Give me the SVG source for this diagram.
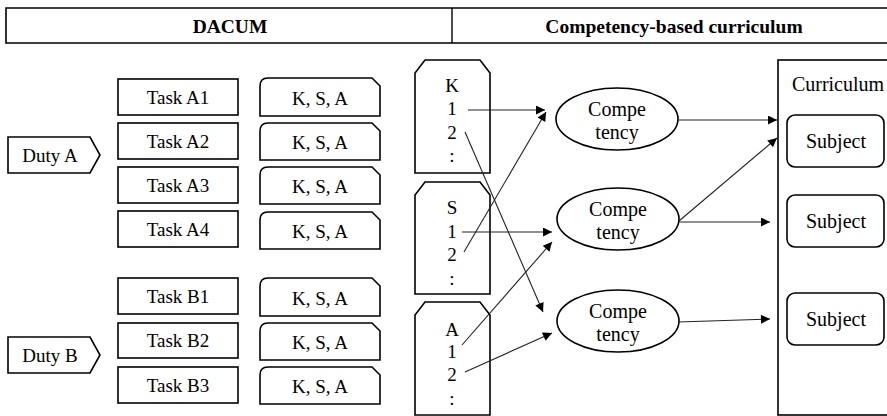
<svg xmlns="http://www.w3.org/2000/svg" width="887" height="416" viewBox="0 0 887 416">
<defs>
<marker id="ah" viewBox="0 0 10 10" refX="10" refY="5" markerWidth="11" markerHeight="9" markerUnits="userSpaceOnUse" orient="auto">
<path d="M0,0 L10,5 L0,10 Z" fill="#000"/>
</marker>
</defs>
<style>
.t{font-family:'Liberation Serif','DejaVu Serif',serif;font-size:19px;fill:#000;text-anchor:middle}
.r{font-family:'Liberation Serif','DejaVu Serif',serif;font-size:20px;fill:#000;text-anchor:middle}
.h{font-family:'Liberation Serif','DejaVu Serif',serif;font-size:19.5px;font-weight:bold;fill:#000;text-anchor:middle}
.b{fill:#fff;stroke:#000;stroke-width:1.6}
.c{fill:none;stroke:#222;stroke-width:1.1;marker-end:url(#ah)}
</style>
<rect width="887" height="416" fill="#fff"/>
<g id="header">
<path d="M888,8 H6 V43 H888" class="b"/>
<line x1="452" y1="8" x2="452" y2="43" stroke="#000" stroke-width="1.4"/>
<text x="230" y="33" class="h">DACUM</text>
<text x="674" y="33" class="h">Competency-based curriculum</text>
</g>
<g id="dutyA"><path d="M8,137 H90 L100,155 L90,173 H8 Z" class="b"/><text x="50" y="162" class="t">Duty A</text></g>
<g id="dutyB"><path d="M8,337 H90 L100,355 L90,373 H8 Z" class="b"/><text x="50" y="362" class="t">Duty B</text></g>
<g id="taskA1"><rect x="118" y="79" width="120" height="36" class="b"/><text x="178" y="104" class="t">Task A1</text></g>
<g id="taskA2"><rect x="118" y="123" width="120" height="36" class="b"/><text x="178" y="148" class="t">Task A2</text></g>
<g id="taskA3"><rect x="118" y="167" width="120" height="36" class="b"/><text x="178" y="192" class="t">Task A3</text></g>
<g id="taskA4"><rect x="118" y="211" width="120" height="36" class="b"/><text x="178" y="236" class="t">Task A4</text></g>
<g id="taskB1"><rect x="118" y="278" width="120" height="36" class="b"/><text x="178" y="303" class="t">Task B1</text></g>
<g id="taskB2"><rect x="118" y="323" width="120" height="35" class="b"/><text x="178" y="347" class="t">Task B2</text></g>
<g id="taskB3"><rect x="118" y="367" width="120" height="36" class="b"/><text x="178" y="392" class="t">Task B3</text></g>
<g id="ksaA1"><path d="M260,116 V86 Q260,78 268,78 H372 L380,86 V116 Z" class="b"/><text x="320" y="105" class="t">K, S, A</text></g>
<g id="ksaA2"><path d="M260,160 V131 Q260,123 268,123 H372 L380,131 V160 Z" class="b"/><text x="320" y="149" class="t">K, S, A</text></g>
<g id="ksaA3"><path d="M260,204 V175 Q260,167 268,167 H372 L380,175 V204 Z" class="b"/><text x="320" y="193" class="t">K, S, A</text></g>
<g id="ksaA4"><path d="M260,249 V220 Q260,212 268,212 H372 L380,220 V249 Z" class="b"/><text x="320" y="238" class="t">K, S, A</text></g>
<g id="ksaB1"><path d="M260,316 V286 Q260,278 268,278 H372 L380,286 V316 Z" class="b"/><text x="320" y="305" class="t">K, S, A</text></g>
<g id="ksaB2"><path d="M260,360 V331 Q260,323 268,323 H372 L380,331 V360 Z" class="b"/><text x="320" y="349" class="t">K, S, A</text></g>
<g id="ksaB3"><path d="M260,404 V375 Q260,367 268,367 H372 L380,375 V404 Z" class="b"/><text x="320" y="393" class="t">K, S, A</text></g>
<g id="K"><path d="M415,173 V73 L425,60 H480 L490,73 V173 Z" class="b"/>
<text x="452" y="92" class="t">K</text><text x="452" y="115" class="t">1</text><text x="452" y="139" class="t">2</text><text x="452" y="162" class="t">:</text></g>
<g id="S"><path d="M415,294 V195 L425,182 H480 L490,195 V294 Z" class="b"/>
<text x="452" y="214" class="t">S</text><text x="452" y="238" class="t">1</text><text x="452" y="261" class="t">2</text><text x="452" y="285" class="t">:</text></g>
<g id="A"><path d="M415,415 V315 L425,302 H480 L490,315 V415 Z" class="b"/>
<text x="452" y="336" class="t">A</text><text x="452" y="358" class="t">1</text><text x="452" y="381" class="t">2</text><text x="452" y="405" class="t">:</text></g>
<g id="comp1"><ellipse cx="617" cy="119" rx="61" ry="31" class="b"/><text x="617" y="116" class="r">Compe</text><text x="617" y="139" class="r">tency</text></g>
<g id="comp2"><ellipse cx="618" cy="219" rx="61" ry="31" class="b"/><text x="618" y="216" class="r">Compe</text><text x="618" y="239" class="r">tency</text></g>
<g id="comp3"><ellipse cx="618" cy="321" rx="61" ry="31" class="b"/><text x="618" y="318" class="r">Compe</text><text x="618" y="341" class="r">tency</text></g>
<g id="curriculum"><rect x="778" y="60" width="120" height="355" class="b"/><text x="838" y="91" class="r">Curriculum</text></g>
<g id="subject1"><rect x="787" y="115" width="97" height="52" rx="8" class="b"/><text x="836" y="148" class="r">Subject</text></g>
<g id="subject2"><rect x="787" y="195" width="97" height="52" rx="8" class="b"/><text x="836" y="228" class="r">Subject</text></g>
<g id="subject3"><rect x="787" y="293" width="97" height="52" rx="8" class="b"/><text x="836" y="326" class="r">Subject</text></g>
<g id="connectors">
<line x1="468" y1="110" x2="545" y2="110" class="c"/>
<line x1="465" y1="132" x2="543" y2="312" class="c"/>
<line x1="462" y1="232" x2="552" y2="232" class="c"/>
<line x1="464" y1="252" x2="546" y2="112" class="c"/>
<line x1="462" y1="345" x2="552" y2="242" class="c"/>
<line x1="465" y1="372" x2="552" y2="333" class="c"/>
<line x1="678" y1="120" x2="777" y2="120" class="c"/>
<line x1="679" y1="221" x2="777" y2="138" class="c"/>
<line x1="679" y1="222" x2="770" y2="222" class="c"/>
<line x1="678" y1="322" x2="770" y2="319" class="c"/>
</g>
</svg>
